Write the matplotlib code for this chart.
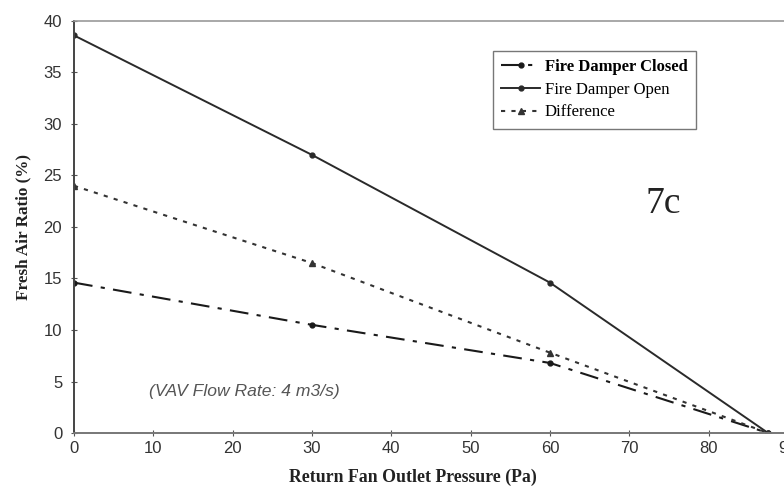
import matplotlib
matplotlib.use("Agg")
import matplotlib.pyplot as plt

pressure = [0, 30, 60, 87.5]
closed = [14.6, 10.5, 6.8, 0.0]
opened = [38.6, 27.0, 14.6, 0.0]
difference = [24.0, 16.5, 7.8, 0.0]
x_ticks = [0, 10, 20, 30, 40, 50, 60, 70, 80, 90]
y_ticks = [0, 5, 10, 15, 20, 25, 30, 35, 40]

fig = plt.figure(figsize=(7.84, 4.88), dpi=100)
ax = fig.add_axes([0.0944, 0.1127, 0.9106, 0.8443])

ax.plot(pressure, closed, color="#1a1a1a", lw=1.5, linestyle=(0, (9, 4, 2, 4)),
        marker="o", markersize=3.5, label="Fire Damper Closed")
ax.plot(pressure, opened, color="#2a2a2a", lw=1.4, linestyle="-",
        marker="o", markersize=3.5, label="Fire Damper Open")
ax.plot(pressure, difference, color="#333333", lw=1.5, linestyle=(0, (2, 3)),
        marker="^", markersize=4, label="Difference")

ax.set_xlim(0, 90)
ax.set_ylim(0, 40)
ax.set_xticks(x_ticks)
ax.set_yticks(y_ticks)
ax.tick_params(direction="inout", length=5, width=0.8, colors="#555555",
               labelcolor="#333333", labelsize=12)
ax.tick_params(axis="y", pad=6)
ax.tick_params(axis="x", pad=3)
for lab in ax.get_xticklabels() + ax.get_yticklabels():
    lab.set_fontfamily("Liberation Sans")

ax.spines["left"].set_color("#444444")
ax.spines["left"].set_linewidth(1.4)
ax.spines["bottom"].set_color("#777777")
ax.spines["bottom"].set_linewidth(1.4)
ax.spines["top"].set_color("#999999")
ax.spines["top"].set_linewidth(1.2)
ax.spines["right"].set_visible(False)

ax.set_ylabel("Fresh Air Ratio (%)", family="Liberation Serif", fontweight="bold",
              fontsize=12.3, color="#222222", labelpad=9)
ax.set_xlabel("Return Fan Outlet Pressure (Pa)", family="Liberation Serif",
              fontweight="bold", fontsize=12.8, color="#222222")
ax.xaxis.set_label_coords(0.475, -0.107)
ax.xaxis.label.set_verticalalignment("center")

leg = ax.legend(loc="upper left", bbox_to_anchor=(0.58, 0.94),
                prop={"family": "Liberation Serif", "size": 12},
                frameon=True, fancybox=False, edgecolor="#555555",
                handlelength=2.3, handletextpad=0.3, borderpad=0.5,
                labelspacing=0.4, borderaxespad=0.3)
leg.get_frame().set_linewidth(1.0)
leg.get_texts()[0].set_fontweight("bold")

ax.text(72, 21.4, "7c", family="Liberation Serif", fontsize=27, color="#222222")
ax.text(9.5, 3.6, "(VAV Flow Rate: 4 m3/s)", family="Liberation Sans",
        style="italic", fontsize=12.6, color="#555555")

fig.savefig("out.png", dpi=100)
